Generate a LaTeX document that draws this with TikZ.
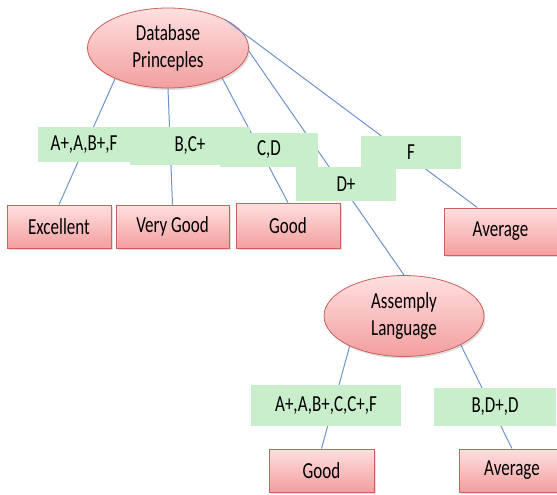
\documentclass[tikz,border=0pt]{standalone}
\usepackage{fontspec}
\setmainfont{Carlito}
\usetikzlibrary{shapes.geometric, shadows}
\definecolor{pinktop}{RGB}{255,224,224}
\definecolor{pinkbot}{RGB}{243,158,158}
\definecolor{pinkline}{RGB}{205,95,95}
\definecolor{gradegreen}{RGB}{200,238,203}
\definecolor{linkblue}{RGB}{108,148,202}
\newcommand{\tall}[1]{\scalebox{1}[1.35]{#1}}
\tikzset{
  subject/.style={
    ellipse,
    draw=pinkline,
    thick,
    top color=pinktop,
    bottom color=pinkbot,
    inner sep=0pt,
    align=center,
    font=\fontsize{17}{27}\selectfont,
    drop shadow={opacity=0.25, shadow xshift=1.5pt, shadow yshift=-2pt}
  },
  result/.style={
    rectangle,
    draw=pinkline,
    thick,
    top color=pinktop,
    bottom color=pinkbot,
    inner sep=0pt,
    font=\fontsize{17}{20}\selectfont,
    drop shadow={opacity=0.25, shadow xshift=1.5pt, shadow yshift=-2pt}
  },
  grade/.style={
    rectangle,
    fill=gradegreen,
    inner sep=0pt,
    font=\fontsize{17}{20}\selectfont
  },
  link/.style={draw=linkblue, line width=1pt}
}

\begin{document}
\begin{tikzpicture}[x=1pt,y=-1pt]
\useasboundingbox (0,0) rectangle (557,495);
\clip (0,0) rectangle (557,495);

% subjects
\node[subject, minimum width=161pt, minimum height=80pt] (db) at (168,48) {\tall{Database}\\\tall{Princeples}};
\node[subject, minimum width=160pt, minimum height=81pt] (asm) at (404,316) {\tall{Assemply}\\\tall{Language}};

% results
\node[result, minimum width=104pt, minimum height=43pt] (excellent) at (59,226.5) {\tall{Excellent}};
\node[result, minimum width=113pt, minimum height=43pt] (verygood) at (172.5,226.5) {\tall{Very Good}};
\node[result, minimum width=104pt, minimum height=45pt] (good) at (288,225.5) {\tall{Good}};
\node[result, minimum width=113pt, minimum height=47pt] (average) at (500.5,231.5) {\tall{Average}};
\node[result, minimum width=105pt, minimum height=43pt] (asmgood) at (321.5,470.5) {\tall{Good}};
\node[result, minimum width=106pt, minimum height=43pt] (asmaverage) at (512,470.5) {\tall{Average}};

% links
\draw[link] (db.210) -- (excellent.north);
\draw[link] (db.south) -- (verygood.north);
\draw[link] (db.-29) -- (good.north);
\draw[link] (db.-2) -- (asm.north);
\draw[link] (db.27) -- (average.134);
\draw[link] (asm.209) -- (asmgood.north);
\draw[link] (asm.-27) -- (asmaverage.north);

% grades
\node[grade, minimum width=92pt, minimum height=35pt] (gexc) at (84,144.5) {\tall{A+,A,B+,F}};
\node[grade, minimum width=98pt, minimum height=34pt] (ggood) at (269,150) {\tall{C,D}};
\node[grade, minimum width=120pt, minimum height=38pt] (gvgood) at (190,146) {\tall{B,C+}};
\node[grade, minimum width=100pt, minimum height=34pt] (gasm) at (346,184) {\tall{D+}};
\node[grade, minimum width=100pt, minimum height=33pt] (gavg) at (411,152.5) {\tall{F}};
\node[grade, minimum width=150pt, minimum height=41pt] (gasmgood) at (326,405.5) {\tall{A+,A,B+,C,C+,F}};
\node[grade, minimum width=122pt, minimum height=38pt] (gasmavg) at (495,407) {\tall{B,D+,D}};
\end{tikzpicture}
\end{document}
